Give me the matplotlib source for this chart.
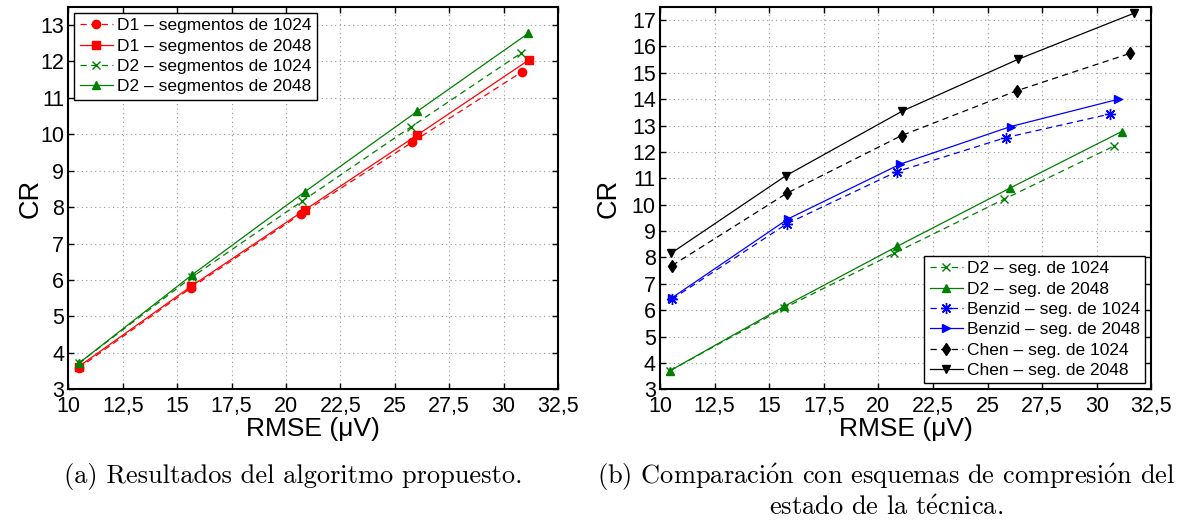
import matplotlib
matplotlib.use("Agg")
import matplotlib.pyplot as plt
from matplotlib.ticker import FixedLocator

plt.rcParams["mathtext.fontset"] = "cm"

# RMSE (uV) / CR values for each compression scheme
d1_1024_x = [10.47, 15.65, 20.71, 25.79, 30.86]
d1_1024_y = [3.58, 5.79, 7.82, 9.78, 11.72]
d1_2048_x = [10.47, 15.65, 20.88, 26.03, 31.16]
d1_2048_y = [3.62, 5.83, 7.93, 9.98, 12.04]
d2_1024_x = [10.47, 15.68, 20.73, 25.76, 30.78]
d2_1024_y = [3.71, 6.08, 8.16, 10.21, 12.22]
d2_2048_x = [10.47, 15.70, 20.86, 26.03, 31.13]
d2_2048_y = [3.71, 6.15, 8.42, 10.63, 12.77]
benzid_1024_x = [10.55, 15.80, 20.84, 25.82, 30.62]
benzid_1024_y = [6.42, 9.27, 11.25, 12.54, 13.44]
benzid_2048_x = [10.55, 15.86, 21.01, 26.05, 30.96]
benzid_2048_y = [6.47, 9.46, 11.54, 12.96, 13.99]
chen_1024_x = [10.55, 15.80, 21.06, 26.34, 31.54]
chen_1024_y = [7.69, 10.43, 12.62, 14.32, 15.74]
chen_2048_x = [10.51, 15.75, 21.10, 26.39, 31.68]
chen_2048_y = [8.16, 11.09, 13.55, 15.51, 17.25]

x_ticks = [10, 12.5, 15, 17.5, 20, 22.5, 25, 27.5, 30, 32.5]
x_tick_labels = ["10", "12,5", "15", "17,5", "20", "22,5", "25", "27,5", "30", "32,5"]

sans = ["Liberation Sans", "DejaVu Sans"]
serif = ["cmr10", "DejaVu Serif"]

RED = (1, 0, 0)
GREEN = (0, 0.5, 0)
BLUE = (0, 0, 1)
BLACK = (0, 0, 0)
DASH = (0, (5, 3.5))


def setupAxes(ax, ymax, ylabel_x):
    ax.set_xlim(10, 32.5)
    ax.set_ylim(3, ymax)
    ax.xaxis.set_major_locator(FixedLocator(x_ticks))
    ax.set_xticklabels(x_tick_labels, family=sans, fontsize=15.5)
    yt = list(range(3, int(ymax) + 1))
    ax.yaxis.set_major_locator(FixedLocator(yt))
    ax.set_yticklabels([str(v) for v in yt], family=sans, fontsize=15.5)
    ax.tick_params(direction="in", top=True, right=True, length=4, width=1,
                   pad=3)
    ax.tick_params(axis="x", pad=5)
    ax.grid(True, color="0.6", linestyle=(0, (1, 3)), linewidth=0.8)
    for sp in ax.spines.values():
        sp.set_linewidth(1.5)
    ax.set_xlabel("RMSE (μV)", family=sans, fontsize=19)
    ax.set_ylabel("CR", family=sans, fontsize=19.5)
    ax.xaxis.set_label_coords(0.5, -0.073)
    ax.yaxis.set_label_coords(ylabel_x, 0.5)


def addLegend(ax, loc):
    leg = ax.legend(loc=loc, prop={"family": sans, "size": 12.5},
                    fancybox=False, framealpha=1, edgecolor="black",
                    borderpad=0.3, labelspacing=0.3, handlelength=1.9,
                    handletextpad=0.25, borderaxespad=0.35)
    leg.get_frame().set_linewidth(1.0)
    return leg


fig = plt.figure(figsize=(11.84, 5.24), dpi=100)
ax1 = fig.add_axes([0.0577, 0.257, 0.4136, 0.730])
ax2 = fig.add_axes([0.5574, 0.257, 0.4151, 0.730])

lw = 0.9
ms = 6

# (a) proposed algorithm
ax1.plot(d1_1024_x, d1_1024_y, color=RED, linestyle=DASH, linewidth=lw,
         marker="o", markersize=ms, label="D1 – segmentos de 1024")
ax1.plot(d1_2048_x, d1_2048_y, color=RED, linestyle="-", linewidth=lw,
         marker="s", markersize=ms - 0.5, label="D1 – segmentos de 2048")
ax1.plot(d2_1024_x, d2_1024_y, color=GREEN, linestyle=DASH, linewidth=lw,
         marker="x", markersize=ms, markeredgewidth=1, label="D2 – segmentos de 1024")
ax1.plot(d2_2048_x, d2_2048_y, color=GREEN, linestyle="-", linewidth=lw,
         marker="^", markersize=ms, label="D2 – segmentos de 2048")
setupAxes(ax1, 13.5, -0.05)
addLegend(ax1, "upper left")

# (b) comparison with other schemes
ax2.plot(d2_1024_x, d2_1024_y, color=GREEN, linestyle=DASH, linewidth=lw,
         marker="x", markersize=ms, markeredgewidth=1, label="D2 – seg. de 1024")
ax2.plot(d2_2048_x, d2_2048_y, color=GREEN, linestyle="-", linewidth=lw,
         marker="^", markersize=ms, label="D2 – seg. de 2048")
ax2.plot(benzid_1024_x, benzid_1024_y, color=BLUE, linestyle=DASH, linewidth=lw,
         marker=(8, 2, 0), markersize=ms + 2, markeredgewidth=1,
         label="Benzid – seg. de 1024")
ax2.plot(benzid_2048_x, benzid_2048_y, color=BLUE, linestyle="-", linewidth=lw,
         marker=">", markersize=ms, label="Benzid – seg. de 2048")
ax2.plot(chen_1024_x, chen_1024_y, color=BLACK, linestyle=DASH, linewidth=lw,
         marker="d", markersize=ms, label="Chen – seg. de 1024")
ax2.plot(chen_2048_x, chen_2048_y, color=BLACK, linestyle="-", linewidth=lw,
         marker="v", markersize=ms, label="Chen – seg. de 2048")
setupAxes(ax2, 17.5, -0.077)
addLegend(ax2, "lower right")

# subfigure captions (accents through mathtext so the whole line stays in CM)
cap = dict(family=serif, fontsize=19, ha="center", va="center")
fig.text(293 / 1184, 1 - 477 / 524, "(a) Resultados del algoritmo propuesto.", **cap)
fig.text(886 / 1184, 1 - 477 / 524,
         r"(b) Comparaci$\mathrm{\acute{o}}$n con esquemas de compresi$\mathrm{\acute{o}}$n del",
         **cap)
fig.text(886 / 1184, 1 - 508 / 524, r"estado de la t$\mathrm{\acute{e}}$cnica.", **cap)

fig.savefig("out.png", dpi=100)
